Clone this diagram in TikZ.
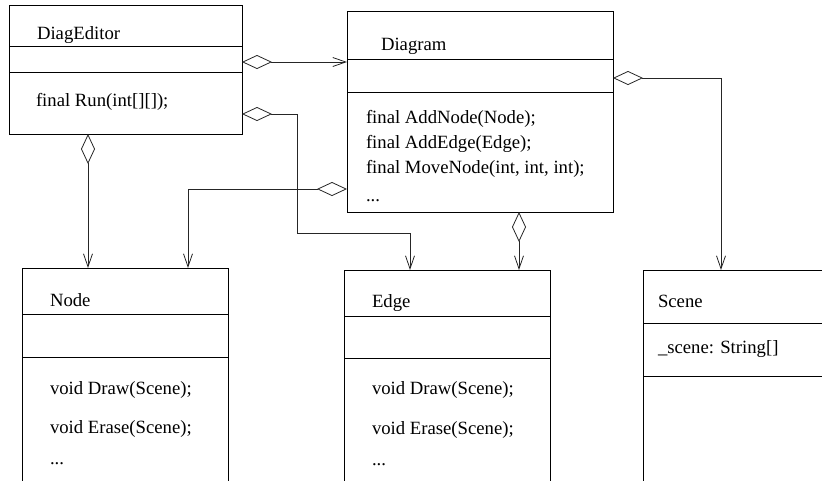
\documentclass[tikz,border=0pt]{standalone}
\usepackage{fontspec}
\setmainfont{Liberation Serif}
\usetikzlibrary{arrows.meta}
\begin{document}
\begin{tikzpicture}[x=1pt,y=-1pt,
  every node/.style={inner sep=0pt,outer sep=0pt},
  classbox/.style={draw=black,line width=0.8pt,rectangle,anchor=north west},
  txt/.style={anchor=base west,font=\fontsize{18.7}{22}\selectfont,text=black},
  divider/.style={draw=black,line width=0.8pt},
  agg/.style={draw=black!85,line width=0.8pt,
    {Diamond[open,length=30pt,width=14pt,fill=white]}-{Straight Barb[length=13pt,width=9pt]}}]
\useasboundingbox (0,0) rectangle (822,480);
\clip (0,0) rectangle (822,480);
% class boxes
\node[classbox,minimum width=233pt,minimum height=129pt] (de) at (9,5) {};
\node[classbox,minimum width=266pt,minimum height=201pt] (dg) at (347,11) {};
\node[classbox,minimum width=206pt,minimum height=240pt] (nd) at (22,268) {};
\node[classbox,minimum width=206pt,minimum height=240pt] (ed) at (344,270) {};
\node[classbox,minimum width=200pt,minimum height=240pt] (sc) at (643,270) {};
% dividers
\draw[divider] (de.west |- 0,46) -- (de.east |- 0,46);
\draw[divider] (de.west |- 0,72) -- (de.east |- 0,72);
\draw[divider] (dg.west |- 0,59) -- (dg.east |- 0,59);
\draw[divider] (dg.west |- 0,92) -- (dg.east |- 0,92);
\draw[divider] (nd.west |- 0,314) -- (nd.east |- 0,314);
\draw[divider] (nd.west |- 0,357) -- (nd.east |- 0,357);
\draw[divider] (ed.west |- 0,316) -- (ed.east |- 0,316);
\draw[divider] (ed.west |- 0,358) -- (ed.east |- 0,358);
\draw[divider] (sc.west |- 0,323) -- (sc.east |- 0,323);
\draw[divider] (sc.west |- 0,376) -- (sc.east |- 0,376);
% texts
\node[txt] (deT) at (37,39) {DiagEditor};
\node[txt] (deM) at (36,106) {final Run(int[][]);};
\node[txt] (dgT) at (381,50) {Diagram};
\node[txt] (dgM1) at (366,123) {final AddNode(Node);};
\node[txt] (dgM2) at (366,148) {final AddEdge(Edge);};
\node[txt] (dgM3) at (366,173) {final MoveNode(int, int, int);};
\node[txt] (dgM4) at (366,201) {...};
\node[txt] (ndT) at (50,306) {Node};
\node[txt] (ndM1) at (50,394) {void Draw(Scene);};
\node[txt] (ndM2) at (50,433) {void Erase(Scene);};
\node[txt] (ndM3) at (50,464) {...};
\node[txt] (edT) at (372,307) {Edge};
\node[txt] (edM1) at (372,394) {void Draw(Scene);};
\node[txt] (edM2) at (372,434) {void Erase(Scene);};
\node[txt] (edM3) at (372,465) {...};
\node[txt] (scT) at (658,307) {Scene};
\node[txt] (scA) at (658,353) {\_scene: String[]};
% connectors
\draw[agg] (de.east |- 0,62) -- (dg.west |- 0,62);
\draw[agg] (de.east |- 0,114) -- (297,114) -- (297,233) -- (410,233) -- (ed.north -| 410,0);
\draw[agg] (de.south -| 88,0) -- (nd.north -| 88,0);
\draw[agg] (dg.west |- 0,189) -- (188,189) -- (nd.north -| 188,0);
\draw[agg] (dg.south -| 519,0) -- (ed.north -| 519,0);
\draw[agg] (dg.east |- 0,78) -- (721,78) -- (sc.north -| 721,0);
\end{tikzpicture}
\end{document}
